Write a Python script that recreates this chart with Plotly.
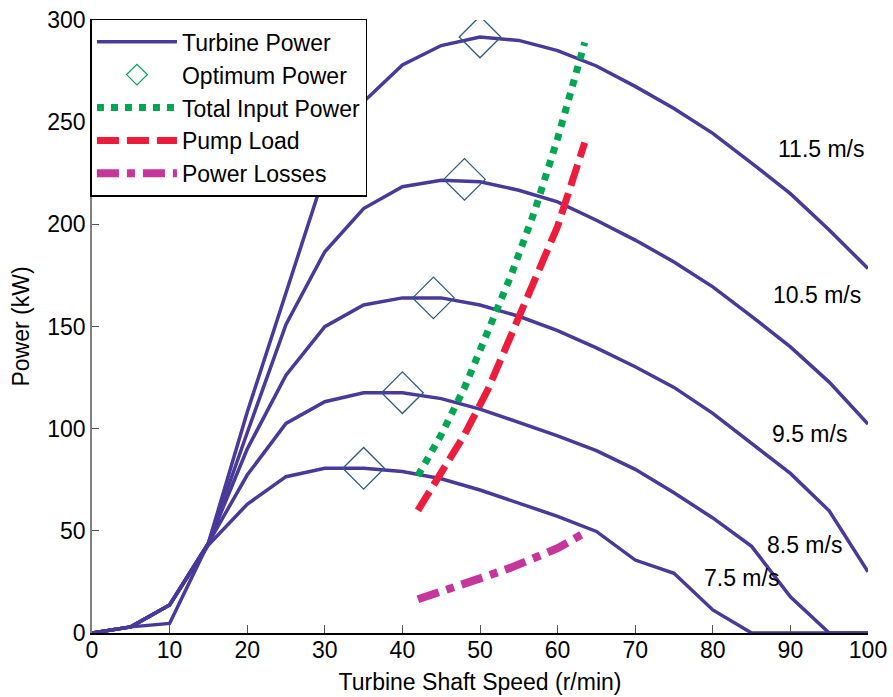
import plotly.graph_objects as go

# Shaft speed grid for the turbine characteristic curves (r/min)
speed = [0, 5, 10, 15, 20, 25, 30, 35, 40, 45, 50, 55, 60, 65, 70, 75, 80, 85, 90, 95, 100]

# Turbine power (kW) at each wind speed
wind_labels = ["7.5 m/s", "8.5 m/s", "9.5 m/s", "10.5 m/s", "11.5 m/s"]
power_75 = [0, 3, 13.7, 43, 63, 76.5, 80.6, 80.6, 79, 75.5, 70, 63.7, 57.1, 49.7, 35.7, 29.2, 11.3, 0, 0, 0, 0]
power_85 = [0, 3, 13.7, 44, 77.3, 102.6, 113.2, 117.6, 117.6, 114.7, 109.6, 103.1, 96.5, 89.2, 80.1, 68.6, 56.3, 42.4, 17.7, 0, 0]
power_95 = [0, 3, 13.7, 44, 90, 126.2, 149.9, 160.5, 164, 164, 160.5, 155, 148, 139.5, 130.3, 120.2, 107.5, 92.8, 78.1, 59.8, 30]
power_105 = [0, 3, 13.7, 44, 98, 151, 186.6, 207.7, 218.4, 221.6, 220.8, 216.7, 211, 202, 192.3, 181.6, 169.4, 155, 140, 122.8, 102.2]
power_115 = [0, 3, 4.7, 44, 108, 167, 225, 260, 278, 287.5, 291.7, 290, 285, 277.5, 267.5, 256.7, 244.5, 230, 215, 197.2, 178.4]
turbine_curves = [power_75, power_85, power_95, power_105, power_115]

# Maximum power point for each wind speed
opt_speed = [35, 40, 44, 48, 50]
opt_power = [80.6, 117.6, 164, 222, 291.7]

# Operating curve of the pump system
op_speed = [42, 45, 48, 51, 54, 57, 60, 63.5]
total_input = [77, 97, 120, 147, 175, 206, 242, 289]
pump_load = [60, 78, 97, 119, 145, 172, 199, 240]
power_losses = [16.5, 20, 24, 28, 32, 36.5, 41.5, 49]

# Where each wind-speed label sits (data coordinates)
label_x = [83.7, 91.8, 92.4, 93.4, 94.0]
label_y = [26.9, 43.0, 97.4, 165.4, 236.8]

FONT = "Liberation Sans, Arial, sans-serif"
PURPLE = "#48399B"
GREEN = "#00A651"
RED = "#EE1C3B"
MAGENTA = "#C6359B"
DIAMOND = "#2D5B80"

fig = go.Figure()

for i, curve in enumerate(turbine_curves):
    fig.add_trace(go.Scatter(
        x=speed, y=curve, mode="lines",
        line=dict(color=PURPLE, width=3.5),
        name="Turbine Power", legendgroup="turbine",
        showlegend=(i == 0),
    ))

# Legend entry for the optimum points
fig.add_trace(go.Scatter(
    x=[None], y=[None], mode="markers", name="Optimum Power",
    marker=dict(symbol="diamond-open", size=16, color=GREEN, line=dict(width=1.2)),
))

fig.add_trace(go.Scatter(
    x=op_speed, y=total_input, mode="lines", name="Total Input Power",
    line=dict(color=GREEN, width=7, dash="7px,7px"),
))
fig.add_trace(go.Scatter(
    x=op_speed, y=pump_load, mode="lines", name="Pump Load",
    line=dict(color=RED, width=7, dash="22px,8px"),
))
fig.add_trace(go.Scatter(
    x=op_speed, y=power_losses, mode="lines", name="Power Losses",
    line=dict(color=MAGENTA, width=8, dash="22px,8px,8px,8px"),
))

fig.add_trace(go.Scatter(
    x=opt_speed, y=opt_power, mode="markers", showlegend=False,
    marker=dict(symbol="diamond-open", size=32, color=DIAMOND, line=dict(width=1.3)),
))

for txt, lx, ly in zip(wind_labels, label_x, label_y):
    fig.add_annotation(x=lx, y=ly, text=txt, showarrow=False,
                       font=dict(size=23, color="black", family=FONT))

fig.update_layout(
    width=893, height=697,
    margin=dict(l=92, r=25, t=20, b=64),
    paper_bgcolor="white", plot_bgcolor="white",
    font=dict(family=FONT, size=23, color="black"),
    showlegend=True,
    legend=dict(
        x=-0.002, y=1.002, xanchor="left", yanchor="top",
        bgcolor="white", bordercolor="black", borderwidth=1.5,
        font=dict(size=23, family=FONT), itemwidth=80,
        tracegroupgap=0,
    ),
    xaxis=dict(
        range=[0, 100], tickmode="array", tickvals=list(range(0, 101, 10)),
        showline=True, linecolor="black", linewidth=1.5,
        ticks="inside", ticklen=8, tickcolor="#555", tickwidth=1,
        showgrid=False, zeroline=False, automargin=False,
        ticklabelstandoff=-4,
        title=dict(text="Turbine Shaft Speed (r/min)", standoff=12, font=dict(size=23)),
        tickfont=dict(size=23),
    ),
    yaxis=dict(
        range=[0, 300], tickmode="array", tickvals=list(range(0, 301, 50)),
        showline=True, linecolor="#808080", linewidth=1.5,
        ticks="inside", ticklen=7, tickcolor="#555", tickwidth=1,
        showgrid=False, zeroline=False, automargin=False,
        title=dict(text="Power (kW)", standoff=11, font=dict(size=23)),
        tickfont=dict(size=23),
    ),
)

fig.write_html("out.html")
